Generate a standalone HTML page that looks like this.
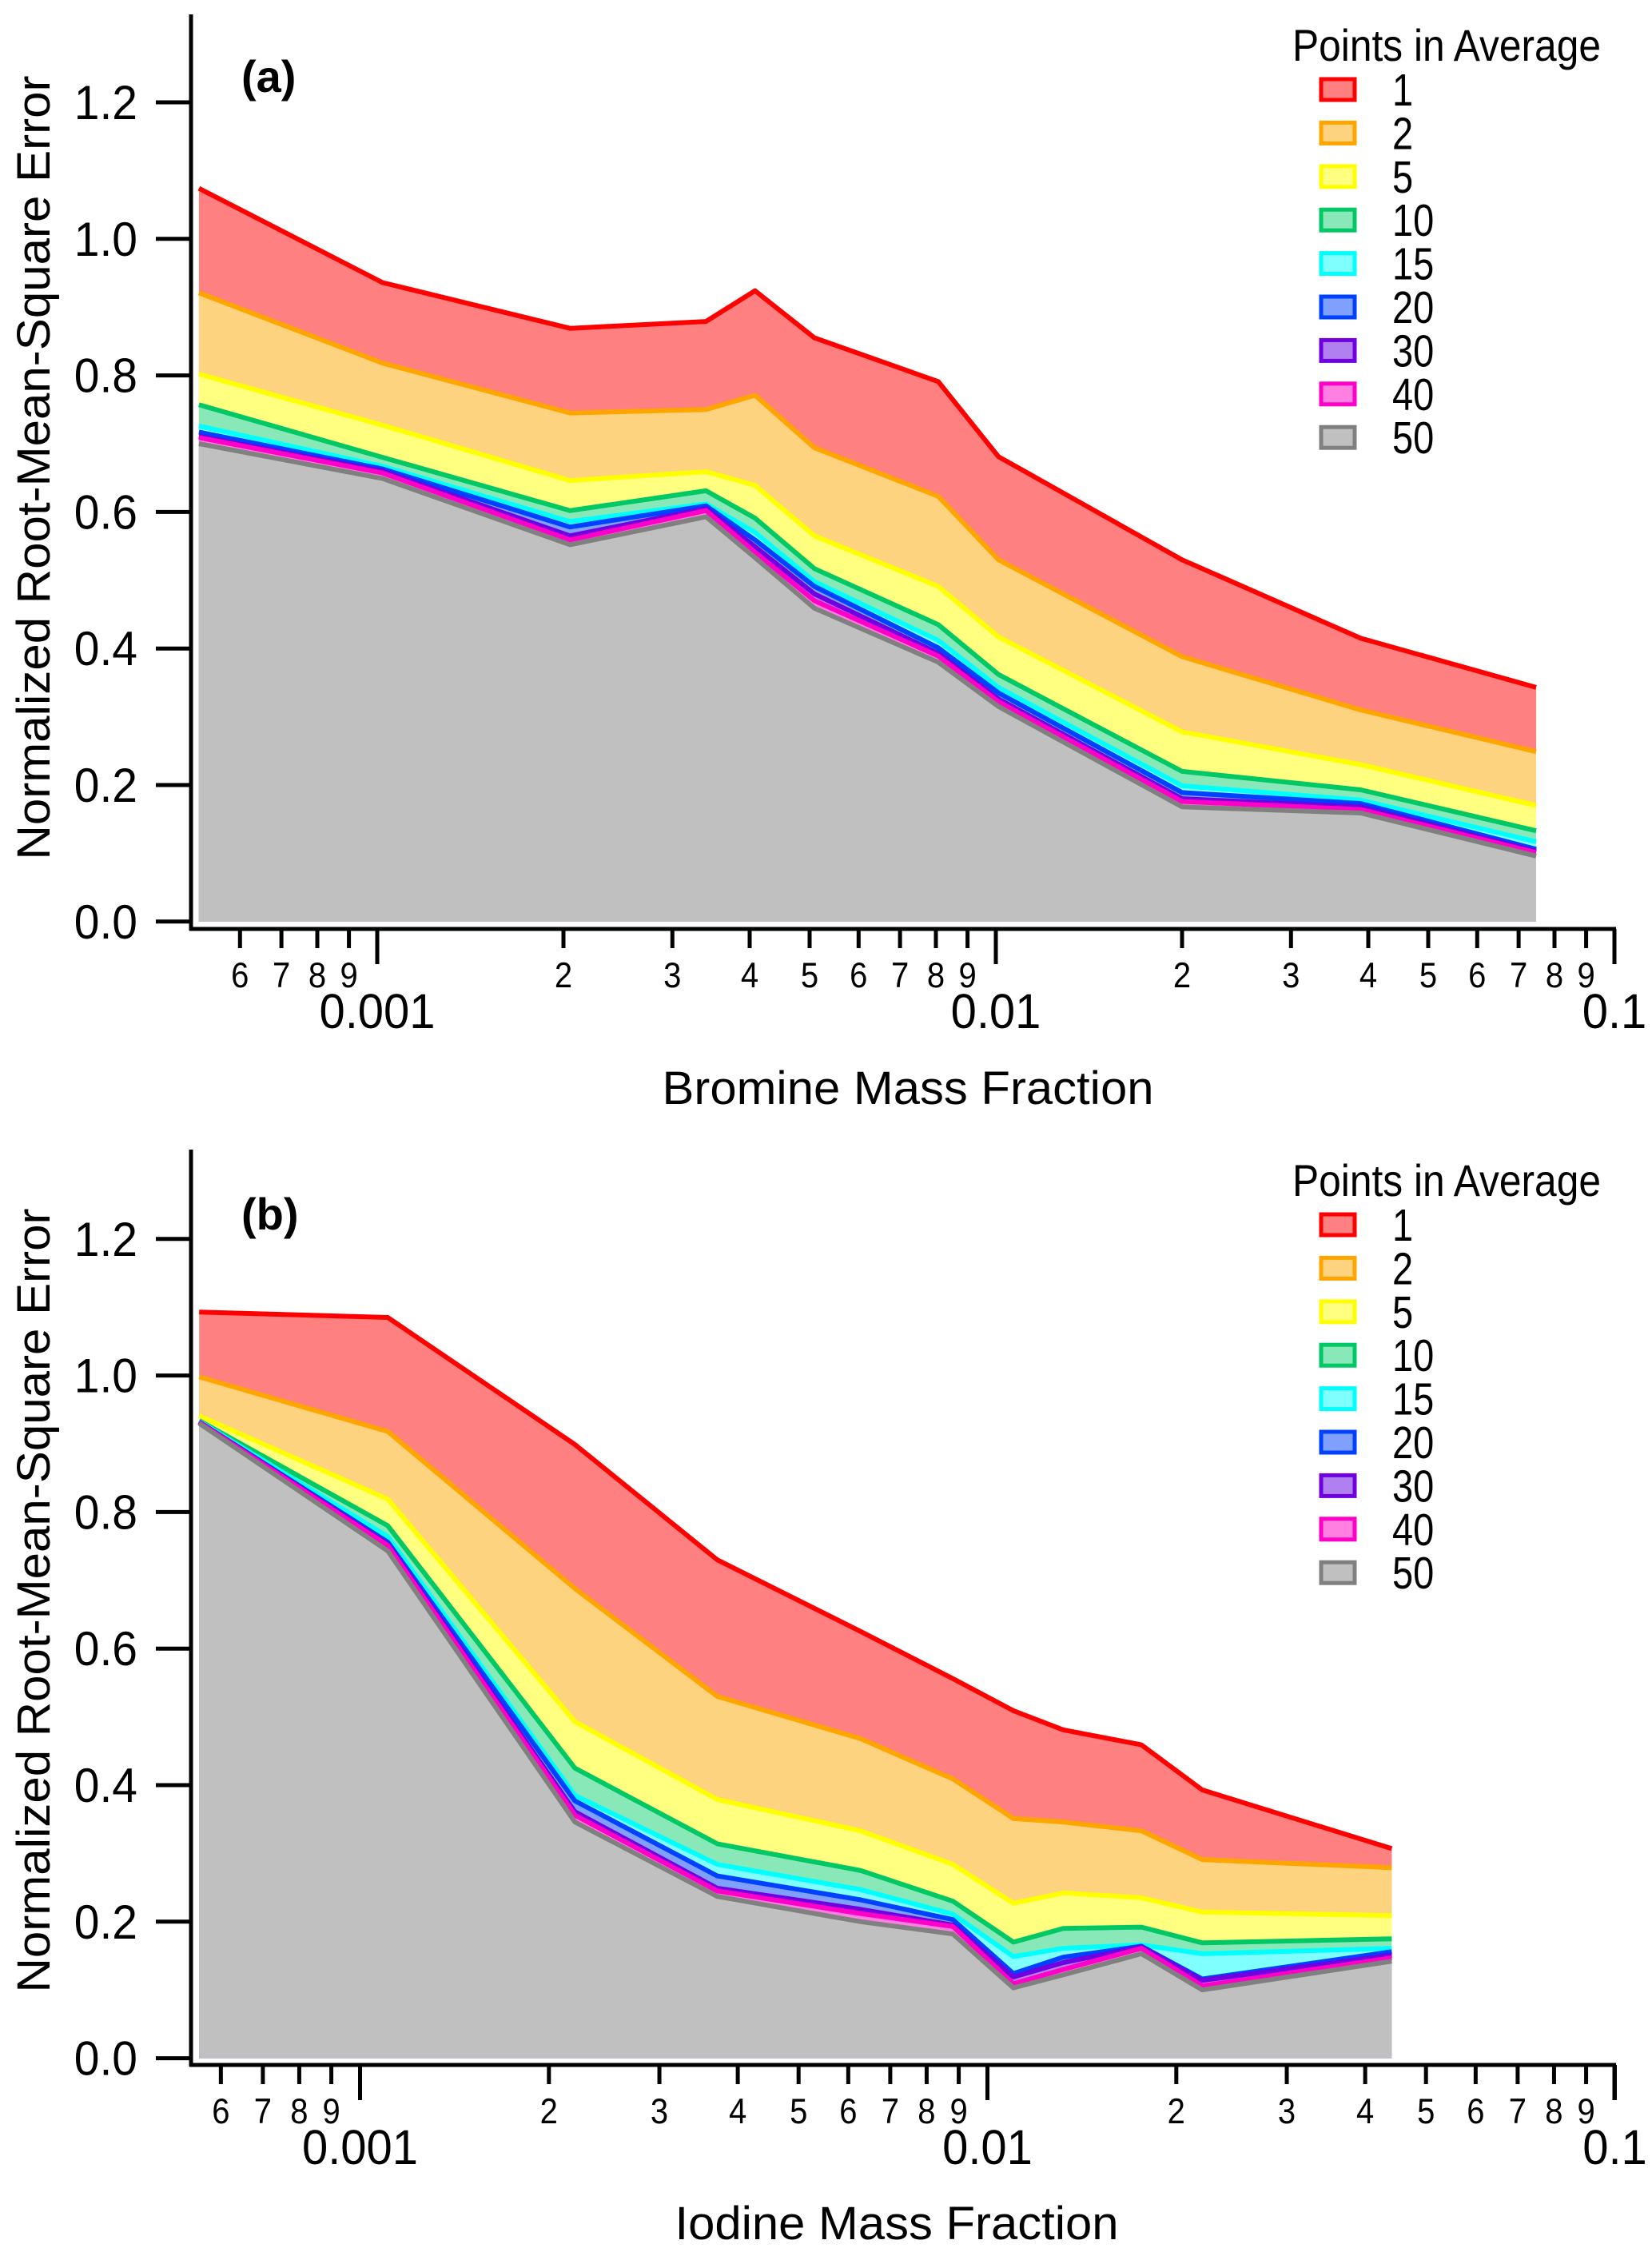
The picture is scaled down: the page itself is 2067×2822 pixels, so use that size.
<!DOCTYPE html>
<html><head><meta charset="utf-8">
<style>
html,body{margin:0;padding:0;background:#fff;}
svg{display:block;font-family:"Liberation Sans",Arial,sans-serif;}
</style></head>
<body>
<svg id="chart" width="2067" height="2822" viewBox="0 0 2067 2822" xmlns="http://www.w3.org/2000/svg"></svg>
<script>
// ---- data ----
const seriesNames = ["1","2","5","10","15","20","30","40","50"];
const lineColors = ["#ff0000","#ffa500","#ffff00","#00c864","#00ffff","#0040ff","#7000e0","#ff00c8","#808080"];
const fillColors = ["#ff8080","#fdd380","#ffff80","#88e8b8","#80ffff","#80a0ff","#b080f0","#ff80e0","#c0c0c0"];
const yTicks = [0.0,0.2,0.4,0.6,0.8,1.0,1.2];
const yTickLabels = ["0.0","0.2","0.4","0.6","0.8","1.0","1.2"];
const decadeTicks = [0.001,0.01,0.1];
const decadeLabels = ["0.001","0.01","0.1"];
const minorTicks = [0.0006,0.0007,0.0008,0.0009,0.002,0.003,0.004,0.005,0.006,0.007,0.008,0.009,0.02,0.03,0.04,0.05,0.06,0.07,0.08,0.09];
const minorLabels = ["6","7","8","9","2","3","4","5","6","7","8","9","2","3","4","5","6","7","8","9"];

const brX = [0.000515,0.00102,0.00205,0.0034,0.00408,0.00509,0.00807,0.0101,0.020,0.0389,0.0747];
const brY1  = [1.074,0.936,0.869,0.879,0.924,0.855,0.791,0.681,0.530,0.415,0.343];
const brY2  = [0.921,0.818,0.745,0.750,0.771,0.694,0.623,0.530,0.388,0.310,0.249];
const brY5  = [0.802,0.727,0.646,0.659,0.639,0.565,0.491,0.417,0.278,0.230,0.170];
const brY10 = [0.757,0.680,0.602,0.631,0.591,0.517,0.435,0.362,0.220,0.193,0.133];
const brY15 = [0.726,0.667,0.586,0.612,0.570,0.498,0.412,0.343,0.199,0.178,0.117];
const brY20 = [0.717,0.663,0.578,0.609,0.559,0.491,0.401,0.335,0.189,0.173,0.106];
const brY30 = [0.711,0.660,0.565,0.605,0.549,0.480,0.393,0.326,0.180,0.168,0.103];
const brY40 = [0.709,0.657,0.559,0.602,0.541,0.470,0.389,0.322,0.176,0.164,0.101];
const brY50 = [0.700,0.649,0.552,0.593,0.533,0.459,0.380,0.315,0.168,0.159,0.096];

const ioX = [0.000554,0.001107,0.0022,0.00371,0.00628,0.00881,0.0110,0.0132,0.0176,0.0220,0.0441];
const ioY1  = [1.093,1.085,0.899,0.730,0.625,0.556,0.509,0.481,0.459,0.393,0.307];
const ioY2  = [0.998,0.918,0.688,0.530,0.468,0.409,0.351,0.346,0.333,0.291,0.279];
const ioY5  = [0.941,0.819,0.493,0.379,0.333,0.284,0.227,0.242,0.235,0.214,0.209];
const ioY10 = [0.934,0.780,0.425,0.314,0.275,0.230,0.170,0.190,0.192,0.169,0.175];
const ioY15 = [0.933,0.764,0.385,0.284,0.247,0.211,0.149,0.161,0.166,0.153,0.161];
const ioY20 = [0.932,0.756,0.377,0.267,0.232,0.203,0.124,0.148,0.164,0.116,0.156];
const ioY30 = [0.932,0.753,0.361,0.249,0.218,0.195,0.119,0.140,0.163,0.114,0.151];
const ioY40 = [0.931,0.751,0.356,0.245,0.212,0.193,0.109,0.130,0.161,0.106,0.147];
const ioY50 = [0.930,0.743,0.346,0.237,0.200,0.182,0.103,0.122,0.153,0.100,0.142];

const NS = "http://www.w3.org/2000/svg";
const svg = document.getElementById("chart");
function mk(tag, attrs, parent){
  const e = document.createElementNS(NS, tag);
  for (const k in attrs) e.setAttribute(k, attrs[k]);
  (parent||svg).appendChild(e);
  return e;
}
function txt(parent, x, y, str, size, anchor, stretch, extra){
  const attrs = {x: 0, y: 0, "text-anchor": anchor, "font-size": size,
    transform: "translate(" + x + "," + y + ") scale(1," + stretch + ")"};
  if (extra) for (const k in extra) attrs[k] = extra[k];
  const t = mk("text", attrs, parent);
  t.textContent = str;
  return t;
}

function panel(p){
  const g = mk("g", {});
  
  
  const xs = v => p.x001 + (Math.log10(v) + 3) * p.dec;
  const ys = v => p.y0 - v * p.unit;
  for (let i = 0; i < p.series.length; i++){
    const vals = p.series[i];
    let d = "M" + xs(p.xData[0]).toFixed(1) + "," + ys(0).toFixed(1);
    for (let j = 0; j < vals.length; j++) d += " L" + xs(p.xData[j]).toFixed(1) + "," + ys(vals[j]).toFixed(1);
    d += " L" + xs(p.xData[p.xData.length-1]).toFixed(1) + "," + ys(0).toFixed(1) + " Z";
    const a = mk("path", {d: d, fill: fillColors[i], stroke: "none"}, g);
    
    
  }
  for (let i = 0; i < p.series.length; i++){
    const vals = p.series[i];
    let pts = [];
    for (let j = 0; j < vals.length; j++) pts.push(xs(p.xData[j]).toFixed(1) + "," + ys(vals[j]).toFixed(1));
    const l = mk("polyline", {points: pts.join(" "), fill: "none", stroke: lineColors[i], "stroke-width": 6, "stroke-linejoin": "round"}, g);
    
    
  }
  const ya = mk("line", {x1: 239, y1: p.yTop, x2: 239, y2: p.xAxisY + 2, stroke: "#000", "stroke-width": 5}, g);
  
  
  for (let i = 0; i < yTicks.length; i++){
    const y = ys(yTicks[i]);
    const t = mk("line", {x1: 195, y1: y, x2: 239, y2: y, stroke: "#000", "stroke-width": 5}, g);
    
    
    const tx = txt(g, 172, y + 21, yTickLabels[i], 57, "end", 1.05);
    
    
  }
  const xa = mk("line", {x1: 237, y1: p.xAxisY, x2: 2022, y2: p.xAxisY, stroke: "#000", "stroke-width": 5}, g);
  
  
  for (let i = 0; i < minorTicks.length; i++){
    const x = xs(minorTicks[i]);
    const t = mk("line", {x1: x, y1: p.xAxisY, x2: x, y2: p.xAxisY + 24, stroke: "#000", "stroke-width": 5}, g);
    
    
    const tx = txt(g, x, p.xAxisY + 73, minorLabels[i], 40, "middle", 1.12);
    
    
  }
  const endTick = mk("line", {x1: 2020, y1: p.xAxisY, x2: 2020, y2: p.xAxisY + 44, stroke: "#000", "stroke-width": 5}, g);
  
  
  for (let i = 0; i < decadeTicks.length; i++){
    const x = xs(decadeTicks[i]);
    const t = mk("line", {x1: x, y1: p.xAxisY, x2: x, y2: p.xAxisY + 44, stroke: "#000", "stroke-width": 5}, g);
    
    
    const tx = txt(g, x, p.xAxisY + 124, decadeLabels[i], 58, "middle", 1.05);
    
    
  }
  const xt = txt(g, p.xTitleX, p.xTitleY, p.xTitle, 58, "middle", 1.0, {textLength: p.xTitleLen, lengthAdjust: "spacingAndGlyphs"});
  
  
  const yt = mk("text", {x: 0, y: 0, "text-anchor": "middle", "font-size": 58, transform: "translate(62," + p.yTitleY + ") rotate(-90)", textLength: 981, lengthAdjust: "spacingAndGlyphs"}, g);
  yt.textContent = "Normalized Root-Mean-Square Error";
  
  
  const pl = txt(g, 302, p.labelY, p.label, 56, "start", 1.0, {"font-weight": "bold"});
  
  
  const lg = mk("g", {}, g);
  
  
  const lt = txt(lg, 1617, p.legY, "Points in Average", 50, "start", 1.12, {textLength: 386, lengthAdjust: "spacingAndGlyphs"});
  
  
  for (let i = 0; i < seriesNames.length; i++){
    const cy = p.legY + 36 + i * 54.4;
    const r = mk("rect", {x: 1653, y: cy - 13, width: 42, height: 26, fill: fillColors[i], stroke: lineColors[i], "stroke-width": 5}, lg);
    
    
    const tx = txt(lg, 1742, cy + 20, seriesNames[i], 47, "start", 1.2);
    
    
  }
}

panel({name: "panel-a-bromine", xData: brX, series: [brY1,brY2,brY5,brY10,brY15,brY20,brY30,brY40,brY50],
  x001: 472, dec: 774, y0: 1152.8, unit: 854, xAxisY: 1162, yTop: 18,
  xTitle: "Bromine Mass Fraction", xTitleX: 1136, xTitleY: 1381, xTitleLen: 615, yTitleY: 585,
  label: "(a)", labelY: 115, legY: 76});
panel({name: "panel-b-iodine", xData: ioX, series: [ioY1,ioY2,ioY5,ioY10,ioY15,ioY20,ioY30,ioY40,ioY50],
  x001: 450.5, dec: 785, y0: 2574.6, unit: 854, xAxisY: 2583, yTop: 1438,
  xTitle: "Iodine Mass Fraction", xTitleX: 1122, xTitleY: 2801, xTitleLen: 555, yTitleY: 2002,
  label: "(b)", labelY: 1538, legY: 1496});
</script>
</body></html>
